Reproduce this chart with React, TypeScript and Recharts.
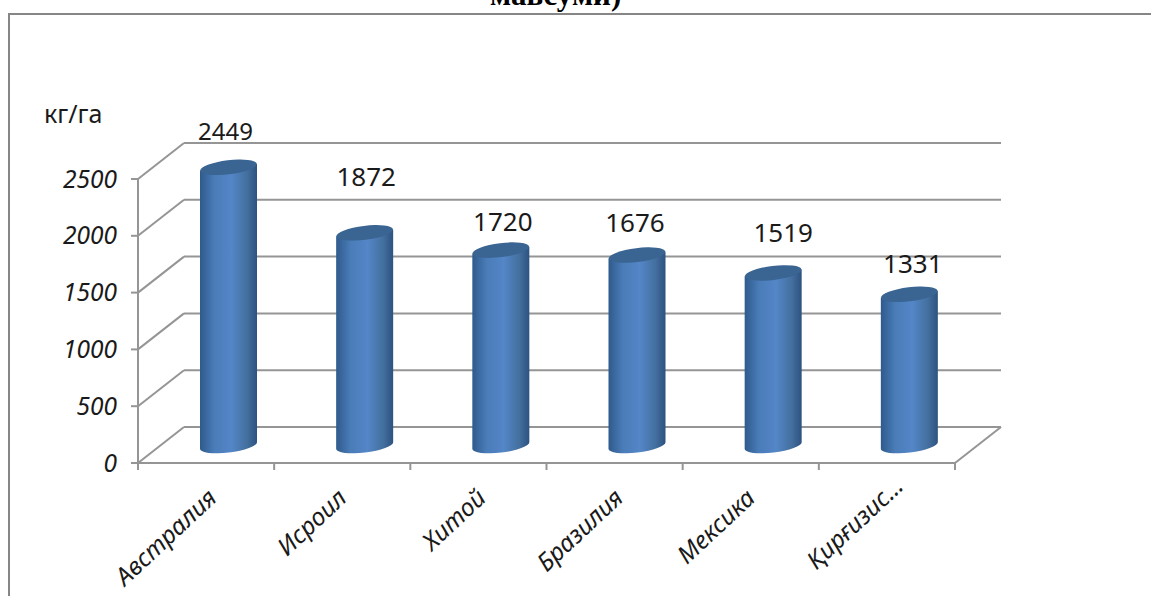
import { Bar, BarChart, CartesianGrid, XAxis, YAxis } from "recharts";

const countries = ["Австралия", "Исроил", "Хитой", "Бразилия", "Мексика", "Қирғизис..."];
const yields = [2449, 1872, 1720, 1676, 1519, 1331];
const yTicks = [0, 500, 1000, 1500, 2000, 2500];
// value labels were placed by hand in the original, so each has its own nudge
const labelLifts = [17, 37, 9, 13, 21, 11];
const labelShifts = [-3, 1.5, 2, -2, 10, 3.5];
const labelSizes = [24, 26, 26, 26, 26, 26];
const tickShiftsX = [0, -6, -3, -2, -6, 6];
const tickShiftsY = [0, 0, 0, 0, 0, -12];

const data = countries.map((name, i) => ({ name, value: yields[i] }));

const PLOT_LEFT = 138;
const PLOT_RIGHT = 955;
const PLOT_TOP = 179;
const PLOT_BOTTOM = 463;
const DEPTH_X = 46;
const DEPTH_Y = 36;
const BAR_DX = 22;
const BAR_DY = -17.5;
const BAND = (PLOT_RIGHT - PLOT_LEFT) / countries.length;
const GREY = "#959595";
const FONT = "'Noto Sans', sans-serif";

function GridLine(props: any) {
  const { x1, x2, y1 } = props;
  return (
    <g stroke={GREY} strokeWidth={2} fill="none">
      <line x1={x1} y1={y1} x2={x1 + DEPTH_X} y2={y1 - DEPTH_Y} />
      <line x1={x1 + DEPTH_X} y1={y1 - DEPTH_Y} x2={x2 + DEPTH_X} y2={y1 - DEPTH_Y} />
      {Math.abs(y1 - PLOT_BOTTOM) < 1 && (
        <line x1={x2} y1={y1} x2={x2 + DEPTH_X} y2={y1 - DEPTH_Y} />
      )}
    </g>
  );
}

function Cylinder(props: any) {
  const { x, y, width, height } = props;
  const cx = x + width / 2 + BAR_DX;
  const rx = width / 2;
  const ry = 7;
  const top = y + BAR_DY;
  const bottom = y + height + BAR_DY;
  const tilt = 3.4;
  const body =
    `M${cx - rx} ${top + tilt} L${cx - rx} ${bottom + tilt} ` +
    `A${rx} ${ry} -7 0 0 ${cx + rx} ${bottom - tilt} L${cx + rx} ${top - tilt} Z`;
  return (
    <g>
      <path d={body} fill="url(#cylinderBody)" />
      <ellipse
        cx={cx}
        cy={top}
        rx={rx}
        ry={ry}
        fill="#3a6492"
        transform={`rotate(-7 ${cx} ${top})`}
      />
    </g>
  );
}

function ValueLabel(props: any) {
  const { x, y, width, value, index } = props;
  return (
    <text
      x={x + width / 2 + BAR_DX + labelShifts[index]}
      y={y + BAR_DY - 10 - labelLifts[index]}
      textAnchor="middle"
      fontSize={labelSizes[index]}
      fontFamily={FONT}
      fill="#1a1a1a"
    >
      {value}
    </text>
  );
}

function CountryTick(props: any) {
  const { x, y, payload, index } = props;
  const boundary = x - BAND / 2;
  const tickTop = PLOT_BOTTOM;
  const endX = x + 12 + tickShiftsX[index];
  const endY = y + 29 + tickShiftsY[index];
  return (
    <g>
      <line x1={boundary} y1={tickTop} x2={boundary} y2={tickTop + 7} stroke={GREY} strokeWidth={2} />
      {index === countries.length - 1 && (
        <line x1={x + BAND / 2} y1={tickTop} x2={x + BAND / 2} y2={tickTop + 7} stroke={GREY} strokeWidth={2} />
      )}
      <text
        x={endX}
        y={endY}
        textAnchor="end"
        fontSize={24.5}
        fontStyle="italic"
        fontFamily={FONT}
        fill="#1a1a1a"
        transform={`rotate(-43 ${endX} ${endY})`}
      >
        {payload.value}
      </text>
    </g>
  );
}

export default function App() {
  return (
    <div
      style={{
        position: "absolute",
        left: 0,
        top: 0,
        width: 1151,
        height: 596,
        overflow: "hidden",
        background: "#fff",
      }}
    >
      <div
        style={{
          position: "absolute",
          left: 490,
          top: -20,
          fontFamily: "'Liberation Serif', serif",
          fontWeight: "bold",
          fontSize: 31,
          lineHeight: "30px",
          whiteSpace: "nowrap",
          color: "#000",
        }}
      >
        мавсуми)
      </div>
      <div
        style={{
          position: "absolute",
          left: 8,
          top: 13,
          width: 1143,
          height: 583,
          borderLeft: "2px solid #868686",
          borderTop: "2px solid #868686",
          boxSizing: "border-box",
        }}
      />
      <div
        style={{
          position: "absolute",
          left: 44,
          top: 97,
          fontFamily: FONT,
          fontSize: 25,
          lineHeight: "32px",
          color: "#1a1a1a",
        }}
      >
        кг/га
      </div>
      <div style={{ position: "absolute", left: 0, top: 0 }}>
        <BarChart
          width={1151}
          height={596}
          data={data}
          margin={{
            left: PLOT_LEFT - 70,
            right: 1151 - PLOT_RIGHT,
            top: PLOT_TOP,
            bottom: 596 - PLOT_BOTTOM - 100,
          }}
        >
          <defs>
            <linearGradient id="cylinderBody" x1="0" y1="0" x2="1" y2="0">
              <stop offset="0" stopColor="#2f5a8c" />
              <stop offset="0.25" stopColor="#4a7cb8" />
              <stop offset="0.55" stopColor="#5486c8" />
              <stop offset="0.82" stopColor="#44709f" />
              <stop offset="1" stopColor="#2d5280" />
            </linearGradient>
          </defs>
          <CartesianGrid vertical={false} horizontal={GridLine as any} />
          <XAxis
            dataKey="name"
            height={100}
            interval={0}
            axisLine={{ stroke: GREY, strokeWidth: 2 }}
            tickLine={false}
            tick={CountryTick as any}
          />
          <YAxis
            width={70}
            domain={[0, 2500]}
            ticks={yTicks}
            interval={0}
            tickSize={7}
            tickMargin={14}
            axisLine={{ stroke: GREY, strokeWidth: 2 }}
            tickLine={{ stroke: GREY, strokeWidth: 2 }}
            tick={{ fill: "#1a1a1a", fontSize: 24.5, fontStyle: "italic", fontFamily: FONT }}
          />
          <Bar
            dataKey="value"
            barSize={57}
            isAnimationActive={false}
            shape={Cylinder as any}
            label={ValueLabel as any}
          />
        </BarChart>
      </div>
    </div>
  );
}
